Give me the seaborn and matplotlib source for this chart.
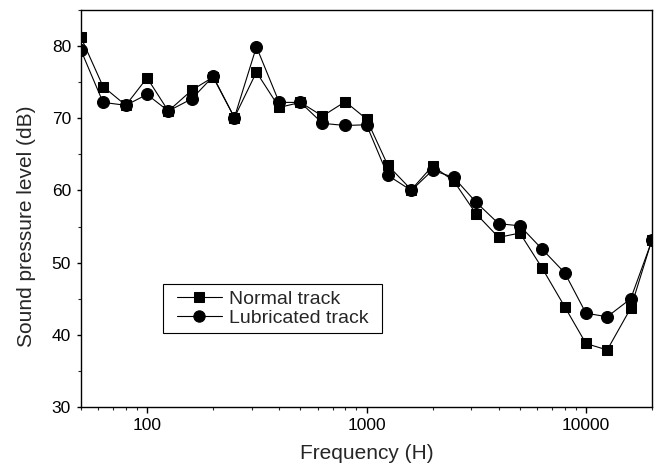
import matplotlib
matplotlib.use("Agg")
import matplotlib.pyplot as plt
import seaborn as sns
import pandas as pd
from matplotlib.ticker import LogLocator, NullFormatter, MultipleLocator
from matplotlib.patches import Rectangle

freq = [50, 63, 80, 100, 125, 160, 200, 250, 315, 400, 500, 630, 800, 1000,
        1250, 1600, 2000, 2500, 3150, 4000, 5000, 6300, 8000, 10000, 12500,
        16000, 20000]
normal = [81.2, 74.4, 71.8, 75.6, 71.0, 73.9, 75.7, 70.1, 76.4, 71.5, 72.2,
          70.3, 72.3, 69.9, 63.5, 60.1, 63.4, 61.3, 56.8, 53.5, 54.1, 49.3,
          43.9, 38.8, 37.9, 43.7, 53.2]
lubricated = [79.4, 72.2, 71.8, 73.3, 71.0, 72.7, 75.8, 70.1, 79.9, 72.2, 72.2,
              69.3, 69.0, 69.1, 62.1, 60.0, 62.8, 61.8, 58.4, 55.4, 55.1, 51.9,
              48.6, 43.0, 42.5, 45.0, 53.1]
series_names = ["Normal track", "Lubricated track"]
xtick_vals = [100, 1000, 10000]
xtick_labels = ["100", "1000", "10000"]
ytick_vals = [30, 40, 50, 60, 70, 80]

df = pd.DataFrame({"freq": freq, "normal": normal, "lub": lubricated})

sns.set_style("ticks")
plt.rcParams['font.family'] = ['Liberation Sans', 'DejaVu Sans']

fig = plt.figure(figsize=(6.56, 4.65), dpi=100)
ax = fig.add_axes([0.1235, 0.1247, 0.8704, 0.8538])

sns.lineplot(data=df, x="freq", y="normal", ax=ax, color="black", lw=0.8,
             marker="s", markersize=7.2, markeredgecolor="black",
             markerfacecolor="black", label=series_names[0])
sns.lineplot(data=df, x="freq", y="lub", ax=ax, color="black", lw=0.8,
             marker="o", markersize=8.6, markeredgecolor="black",
             markerfacecolor="black", label=series_names[1])

ax.set_xscale("log")
ax.set_xlim(50, 20000)
ax.set_ylim(30, 85)
ax.yaxis.set_minor_locator(MultipleLocator(5))
ax.set_yticks(ytick_vals)
ax.xaxis.set_minor_locator(LogLocator(base=10, subs=range(2, 10), numticks=20))
ax.xaxis.set_minor_formatter(NullFormatter())
ax.set_xticks(xtick_vals)
ax.set_xticklabels(xtick_labels)

for s in ax.spines.values():
    s.set_visible(True)
    s.set_color("black")
    s.set_linewidth(1.0)

ax.tick_params(axis="x", which="major", direction="out", length=4,
               width=1, labelsize=12.5, colors="black", top=False, pad=4)
ax.tick_params(axis="y", which="major", direction="out", length=3.2,
               width=1, labelsize=12.5, colors="black", right=False, pad=4)
ax.tick_params(axis="both", which="minor", direction="out", length=2.2,
               width=0.8, top=False, right=False)

ax.set_xlabel("Frequency (H)", fontsize=15, labelpad=8)
ax.set_ylabel("Sound pressure level (dB)", fontsize=15)
ax.yaxis.set_label_coords(-0.079, 0.456)

leg = ax.legend(loc="lower left", bbox_to_anchor=(0.1576, 0.1864), frameon=False,
                fontsize=14, handlelength=2.3, borderpad=0.3, labelspacing=0.1,
                handletextpad=0.36, borderaxespad=0, markerscale=0.95)
leg.set_zorder(10)

# frame drawn around the legend's computed extent, wider horizontally
fig.canvas.draw()
bb = leg.get_window_extent()
extra = 8
rect = Rectangle((bb.x0 - extra, bb.y0), bb.width + 2 * extra, bb.height,
                 transform=None, fill=True, facecolor="white",
                 edgecolor="black", linewidth=0.8, zorder=9, clip_on=False)
ax.add_artist(rect)

fig.savefig("out.png", dpi=100)
